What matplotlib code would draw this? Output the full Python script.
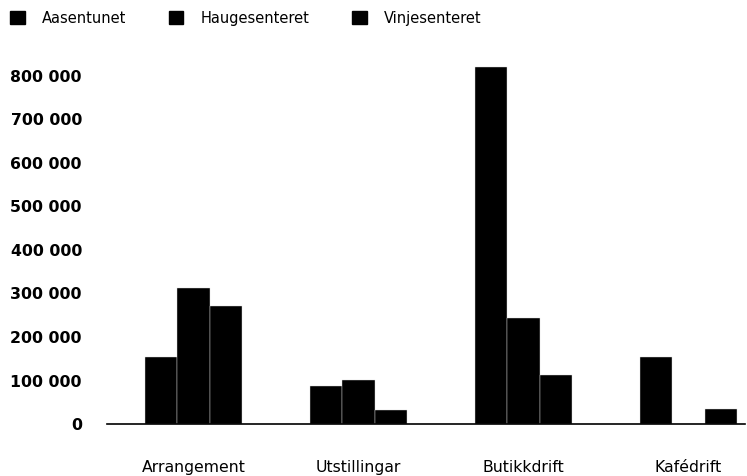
import numpy as np
import matplotlib.pyplot as plt
from matplotlib.patches import Patch

categories = ['Arrangement', 'Utstillingar', 'Butikkdrift', 'Kafédrift']
series_names = ['Aasentunet', 'Haugesenteret', 'Vinjesenteret']
aasentunet = [154000, 87000, 820000, 154000]
haugesenteret = [312000, 101000, 244000, 0]
vinjesenteret = [271000, 32000, 113000, 34000]
yticks = [0, 100000, 200000, 300000, 400000, 500000, 600000, 700000, 800000]

series = [aasentunet, haugesenteret, vinjesenteret]

fig = plt.figure(figsize=(7.47, 4.76), dpi=100)
ax = fig.add_axes([0.1432, 0.1092, 0.8541, 0.768])

x = np.arange(len(categories))
width = 0.195
for i, vals in enumerate(series):
    ax.bar(x + (i - 1) * width, vals, width, color='black',
           edgecolor='#dddddd', linewidth=0.3, zorder=2)

ax.set_xlim(-0.524, 3.342)
ax.set_ylim(0, 840000)
ax.set_yticks(yticks)
ax.set_yticklabels([f'{v:,}'.replace(',', ' ') for v in yticks],
                   fontsize=11.3, fontweight='bold')
ax.set_xticks(x)
ax.set_xticklabels(categories, fontsize=11.3)
ax.tick_params(axis='y', length=0, pad=18)
ax.tick_params(axis='x', length=0, pad=26)

for s in ['top', 'right', 'left']:
    ax.spines[s].set_visible(False)
ax.spines['bottom'].set_linewidth(1.2)
ax.spines['bottom'].set_zorder(3)

handles = [Patch(facecolor='black', edgecolor='black') for _ in series_names]
fig.legend(handles, series_names, loc='upper left', bbox_to_anchor=(-0.004, 1.005),
           ncol=3, frameon=False, fontsize=10.5, handlelength=1.0, handleheight=1.0,
           columnspacing=2.9, handletextpad=1.2)

fig.savefig('out.png', dpi=100)
